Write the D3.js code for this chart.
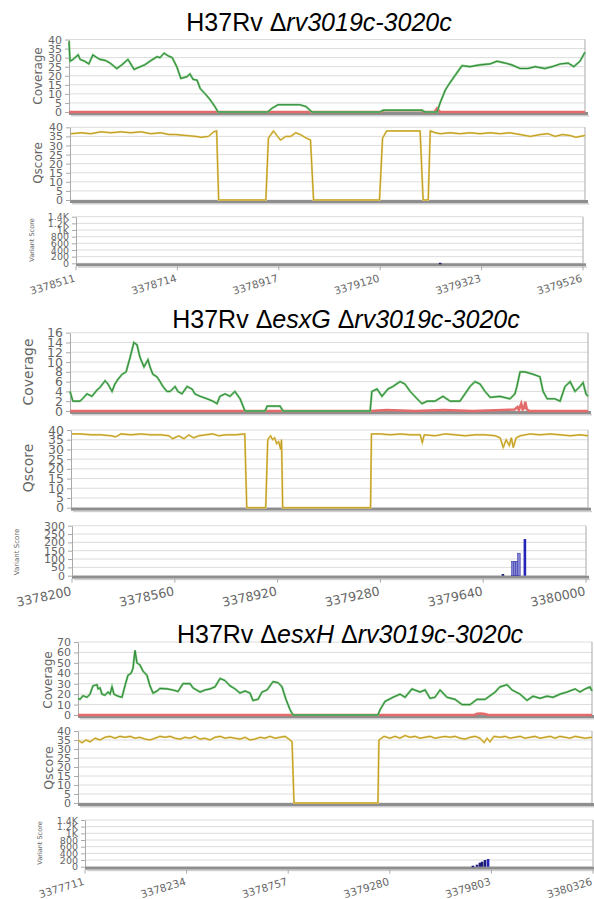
<!DOCTYPE html>
<html><head><meta charset="utf-8">
<script src="https://cdn.jsdelivr.net/npm/d3@7"></script>
<style>body{margin:0;background:#fff}svg{display:block}</style>
</head><body><svg id="c" width="594" height="899"></svg>
<script>
// ---------------- DATA ----------------
const title1 = [["H37Rv ",false],["\u0394",false],["rv3019c-3020c",true]];
const title2 = [["H37Rv ",false],["\u0394",false],["esxG",true],[" ",false],["\u0394",false],["rv3019c-3020c",true]];
const title3 = [["H37Rv ",false],["\u0394",false],["esxH",true],[" ",false],["\u0394",false],["rv3019c-3020c",true]];

const p1Ticks = [3378511,3378714,3378917,3379120,3379323,3379526];
const p2Ticks = [3378200,3378560,3378920,3379280,3379640,3380000];
const p3Ticks = [3377711,3378234,3378757,3379280,3379803,3380326];

const p1Cov = [[3378511,39],[3378513,28],[3378519,29],[3378529,31.5],[3378533,29],[3378542,28],[3378550,26.5],[3378558,31.5],[3378566,30],[3378572,29],[3378582,28.5],[3378592,27],[3378605,24],[3378615,26],[3378627,29],[3378639,23.5],[3378651,25],[3378660,26],[3378670,28],[3378684,30.5],[3378690,30],[3378698,32.5],[3378706,31],[3378714,30],[3378723,25],[3378731,18.5],[3378743,19.5],[3378749,21],[3378755,18],[3378763,17.5],[3378769,13],[3378779,10],[3378788,7],[3378798,3],[3378804,0],[3378902,0],[3378910,2],[3378922,4],[3378965,4],[3378977,3],[3378989,0],[3379123,0],[3379129,1],[3379205,1],[3379211,0],[3379235,0],[3379241,5],[3379251,12],[3379260,16],[3379270,20],[3379284,25.5],[3379300,25],[3379319,26],[3379339,26.5],[3379353,28],[3379369,27],[3379382,26],[3379398,24],[3379414,24],[3379428,25],[3379447,24],[3379461,25],[3379477,26.5],[3379493,27],[3379504,25],[3379516,28],[3379526,33]];
const p1Low = [[3378511,0],[3379125,0],[3379131,1],[3379203,1],[3379209,0],[3379230,0],[3379235,2],[3379241,0],[3379526,0]];
const p1Q = [[3378513,36.5],[3378533,37],[3378552,36.5],[3378572,37.5],[3378592,37],[3378611,37.5],[3378631,37],[3378651,37.5],[3378670,36.5],[3378690,37],[3378706,36],[3378719,36],[3378739,35.5],[3378759,35],[3378769,34.5],[3378784,35],[3378794,37.5],[3378800,38],[3378804,0],[3378897,0],[3378902,34],[3378912,38],[3378920,35],[3378926,33],[3378936,35],[3378946,35],[3378956,37],[3378965,36],[3378977,34],[3378985,33],[3378991,0],[3379121,0],[3379127,34],[3379135,38],[3379201,38],[3379207,0],[3379217,0],[3379221,38],[3379231,37],[3379241,36.5],[3379260,37],[3379280,36.5],[3379300,37],[3379319,36.5],[3379339,37],[3379359,36.5],[3379378,37],[3379398,36],[3379418,35],[3379438,36],[3379453,36.5],[3379467,35],[3379481,36],[3379496,35.5],[3379508,34.5],[3379526,35.5]];
const p1Var = [[3379240,15]];
const p1VarType = ["d"];

const p2Cov = [[3378200,4],[3378210,2],[3378235,2],[3378245,2.6],[3378259,3.5],[3378276,3],[3378294,4.3],[3378304,4.8],[3378322,6.2],[3378332,5.5],[3378346,4],[3378356,5.5],[3378367,6.5],[3378381,7.5],[3378395,8],[3378409,11],[3378422,14],[3378433,13.5],[3378443,11],[3378457,9],[3378471,10.5],[3378478,9],[3378488,7.5],[3378502,7],[3378513,6],[3378523,5],[3378537,4],[3378548,4],[3378565,5],[3378575,4],[3378589,3.5],[3378607,5],[3378624,4.5],[3378634,3.5],[3378652,3],[3378676,2.5],[3378697,2],[3378711,1.5],[3378721,3],[3378739,3.5],[3378756,3],[3378773,4],[3378791,2.5],[3378808,0],[3378878,0],[3378885,1],[3378930,1],[3378940,0],[3379243,0],[3379249,4],[3379267,4.5],[3379284,3],[3379305,4.5],[3379322,5],[3379347,6],[3379364,5.5],[3379382,4],[3379406,2.5],[3379423,1.5],[3379441,2],[3379468,2],[3379496,3],[3379521,2],[3379555,2],[3379590,5],[3379607,6],[3379625,5.5],[3379642,4],[3379660,2.8],[3379694,3],[3379729,2.5],[3379746,3.5],[3379753,5],[3379764,8],[3379781,8],[3379809,7.5],[3379833,7],[3379844,4],[3379858,2.5],[3379885,2.5],[3379903,2],[3379920,5],[3379938,6],[3379955,4],[3379972,5],[3379983,5.8],[3379993,3.5],[3380000,3]];
const p2Low = [[3378200,0],[3379243,0],[3379300,0.2],[3379400,0],[3379500,0.2],[3379600,0],[3379745,0.3],[3379755,0.8],[3379760,0.2],[3379768,1.5],[3379773,0.3],[3379778,0.6],[3379782,1.9],[3379787,0.4],[3379795,0],[3380000,0]];
const p2Q = [[3378203,38],[3378235,38],[3378270,37.5],[3378304,37.5],[3378339,37],[3378356,36.5],[3378374,38],[3378409,37.5],[3378443,38],[3378478,37.5],[3378513,37.5],[3378541,37],[3378554,35.5],[3378575,37],[3378593,35.5],[3378610,37.5],[3378627,36],[3378645,37],[3378669,37.5],[3378693,38],[3378714,37],[3378739,37.5],[3378773,37.5],[3378805,38],[3378812,0],[3378878,0],[3378885,35],[3378895,37],[3378902,35],[3378909,36],[3378916,33],[3378923,34],[3378930,30],[3378933,35],[3378937,0],[3379243,0],[3379246,38],[3379277,38],[3379312,37.5],[3379347,38],[3379382,37.5],[3379416,37.5],[3379423,33.5],[3379430,37.5],[3379468,37],[3379503,38],[3379538,37.5],[3379573,37],[3379607,37.5],[3379642,37.5],[3379677,37],[3379694,36],[3379705,31],[3379715,35],[3379726,32],[3379733,36],[3379740,31],[3379750,36],[3379764,37],[3379799,38],[3379833,37.5],[3379868,38],[3379903,37.5],[3379938,37],[3379972,37.5],[3380000,37]];
const p2Var = [[3379709,10],[3379744,85],[3379751,85],[3379758,85],[3379765,135],[3379786,220]];
const p2VarType = ["d","l","l","l","l","b"];

const p3Cov = [[3377711,16],[3377721,15],[3377736,18.5],[3377757,17],[3377772,20],[3377787,28],[3377808,29],[3377813,25],[3377823,26],[3377833,20],[3377848,19],[3377864,22],[3377874,20],[3377884,27],[3377894,20],[3377915,18],[3377935,17],[3377950,28],[3377965,38],[3377981,40],[3377991,45],[3378001,62],[3378011,50],[3378026,48],[3378042,42],[3378062,38],[3378077,28],[3378093,21],[3378113,23],[3378128,25.5],[3378164,25],[3378194,24],[3378220,22.5],[3378245,30],[3378281,30],[3378296,26],[3378332,22],[3378357,24],[3378383,25],[3378408,27],[3378434,35],[3378459,33],[3378484,28],[3378510,25],[3378535,21],[3378561,23],[3378586,21],[3378601,14],[3378627,15],[3378647,22],[3378673,24],[3378703,32],[3378729,31],[3378749,27],[3378769,15],[3378790,5],[3378805,0],[3379237,0],[3379248,5],[3379273,13],[3379314,17],[3379349,20],[3379375,17],[3379410,25],[3379451,22],[3379477,24],[3379502,16],[3379527,17],[3379553,24],[3379588,17],[3379629,15],[3379665,10],[3379706,10],[3379741,15],[3379782,15],[3379833,22],[3379858,27],[3379894,29],[3379919,24],[3379960,20],[3379995,14],[3380026,18],[3380062,16],[3380097,18],[3380128,17],[3380163,20],[3380199,22],[3380240,25],[3380265,22],[3380291,25],[3380316,27],[3380326,23]];
const p3Low = [[3377711,0],[3379730,0],[3379741,1.2],[3379760,1.5],[3379782,1],[3379795,0],[3380326,0]];
const p3Q = [[3377711,35],[3377731,33.5],[3377752,35],[3377772,34],[3377798,36],[3377823,35],[3377848,36.5],[3377874,37],[3377899,36],[3377925,37],[3377950,36.5],[3377976,37],[3378001,36],[3378026,36.5],[3378052,35.5],[3378077,35],[3378103,36],[3378128,37],[3378154,36.5],[3378179,37],[3378205,36],[3378230,35.5],[3378255,36.5],[3378281,36],[3378306,37],[3378332,35.5],[3378357,36],[3378383,35],[3378408,36.5],[3378434,37],[3378459,36],[3378484,36.5],[3378510,36],[3378535,35.5],[3378561,36.5],[3378586,35],[3378611,35.5],[3378637,36.5],[3378662,36],[3378688,37],[3378713,36],[3378739,36.5],[3378764,37],[3378784,35.5],[3378800,34],[3378810,0],[3379237,0],[3379242,35],[3379268,37],[3379298,36],[3379324,37],[3379349,36],[3379375,37.5],[3379400,36.5],[3379426,37],[3379451,36],[3379477,36.5],[3379502,37],[3379527,36],[3379553,36.5],[3379578,37],[3379604,36.5],[3379629,37],[3379655,36],[3379680,35.5],[3379706,36.5],[3379731,37],[3379756,36],[3379777,33.5],[3379792,36],[3379807,34],[3379827,37],[3379858,36.5],[3379884,37],[3379909,36],[3379934,36.5],[3379960,37],[3379985,36],[3380011,36.5],[3380036,37],[3380062,36],[3380087,36.5],[3380113,37],[3380138,36],[3380163,37],[3380189,36.5],[3380214,36],[3380240,37],[3380265,36.5],[3380291,36],[3380326,36.5]];
const p3Var = [[3379708,30],[3379729,60],[3379744,120],[3379755,150],[3379770,200],[3379786,230]];
const p3VarType = ["d","d","d","d","d","b"];

const covTicks1 = d3.range(0,41,5), covTicks2 = d3.range(0,17,2), covTicks3 = d3.range(0,71,10);
const qTicks = d3.range(0,41,5);
const varTicksK = d3.range(0,1401,200), varTicks300 = d3.range(0,301,50);

// ---------------- LAYOUT ----------------
const panels = [
 {title:title1, titleX:319, titleY:31, ticks:p1Ticks, cov:p1Cov, low:p1Low, q:p1Q, vars:p1Var, vtype:p1VarType,
  covTicks:covTicks1, varTicks:varTicksK,
  C:{x0:69,x1:585,yb:112,yt:39.5}, Q:{x0:70,x1:585,yb:200,yt:127.3}, V:{x0:76,x1:583,yb:263.3,yt:216.7},
  cl:{x:38,y:76,s:12}, ql:{x:38,y:163,s:12}, vl:{x:32,y:240,s:6.5}, tf:11, vtf:9.5, xtf:10.5, rot:-17},
 {title:title2, titleX:346, titleY:328, ticks:p2Ticks, cov:p2Cov, low:p2Low, q:p2Q, vars:p2Var, vtype:p2VarType,
  covTicks:covTicks2, varTicks:varTicks300,
  C:{x0:70,x1:588,yb:411,yt:332.7}, Q:{x0:71,x1:588,yb:507.7,yt:430}, V:{x0:72,x1:586,yb:575.7,yt:525.7},
  cl:{x:28,y:372,s:14}, ql:{x:28,y:468,s:14}, vl:{x:16,y:552,s:7}, tf:12.5, vtf:11, xtf:12.5, rot:-12},
 {title:title3, titleX:350, titleY:643, ticks:p3Ticks, cov:p3Cov, low:p3Low, q:p3Q, vars:p3Var, vtype:p3VarType,
  covTicks:covTicks3, varTicks:varTicksK,
  C:{x0:78,x1:592,yb:715,yt:642}, Q:{x0:78,x1:592,yb:803,yt:731}, V:{x0:85,x1:593,yb:866.7,yt:820},
  cl:{x:48,y:680,s:12}, ql:{x:48,y:768,s:12.5}, vl:{x:40,y:843,s:6.5}, tf:11, vtf:9.5, xtf:10.5, rot:-17}
];

const svg = d3.select("#c");
const fmtK = d => d >= 1000 ? (d/1000) + "K" : String(d);

function frame(g, L, yTicks, fmt, fs, ymax){
  const y = d3.scaleLinear().domain([0, ymax]).range([L.yb, L.yt]);
  g.append("g").selectAll("line").data(yTicks).join("line")
    .attr("x1", L.x0).attr("x2", L.x1).attr("y1", d=>y(d)).attr("y2", d=>y(d))
    .attr("stroke", "#dcdcdc").attr("stroke-width", 1);
  g.append("line").attr("x1", L.x1).attr("x2", L.x1).attr("y1", L.yt).attr("y2", L.yb)
    .attr("stroke", "#b8b8b8").attr("stroke-width", 1.2);
  g.append("rect").attr("x", L.x0).attr("y", L.yb).attr("width", L.x1-L.x0+3).attr("height", 3)
    .attr("fill", "#8e8e8e");
  g.append("rect").attr("x", L.x0+2).attr("y", L.yb+3).attr("width", L.x1-L.x0+2).attr("height", 1.5)
    .attr("fill", "#cfcfcf");
  const ax = g.append("g").attr("transform", `translate(${L.x0},0)`)
    .call(d3.axisLeft(y).tickValues(yTicks).tickFormat(fmt).tickSize(4).tickSizeOuter(0));
  ax.select(".domain").attr("stroke", "#aaa");
  ax.selectAll(".tick line").attr("stroke", "#aaa");
  ax.selectAll("text").attr("fill", "#666").style("font-family", "DejaVu Sans, sans-serif")
    .style("font-size", fs + "px");
  return y;
}

function ylabel(g, l, text){
  g.append("text").attr("transform", `translate(${l.x + l.s*0.36},${l.y}) rotate(-90)`)
    .attr("text-anchor", "middle").attr("fill", "#666")
    .style("font-family", "DejaVu Sans, sans-serif").style("font-size", l.s + "px").text(text);
}

panels.forEach(p => {
  const g = svg.append("g");
  const dom = [p.ticks[0], p.ticks[p.ticks.length-1]];
  // coverage
  const xc = d3.scaleLinear().domain(dom).range([p.C.x0, p.C.x1]);
  const yc = frame(g, p.C, p.covTicks, d3.format("d"), p.tf, d3.max(p.covTicks));
  const lc = d3.line().x(d=>xc(d[0])).y(d=>yc(d[1]));
  g.append("path").datum(p.low).attr("d", lc).attr("fill","none").attr("stroke","#e36b6b").attr("stroke-width",2.6);
  g.append("path").datum(p.cov).attr("d", lc).attr("fill","none").attr("stroke","#7cc47c").attr("stroke-width",2.2);
  g.append("path").datum(p.cov).attr("d", lc).attr("fill","none").attr("stroke","#2f8a3a").attr("stroke-width",1);
  ylabel(g, p.cl, "Coverage");

  // qscore
  const xq = d3.scaleLinear().domain(dom).range([p.Q.x0, p.Q.x1]);
  const yq = frame(g, p.Q, qTicks, d3.format("d"), p.tf, 40);
  const lq = d3.line().x(d=>xq(d[0])).y(d=>yq(d[1]));
  g.append("path").datum(p.q).attr("d", lq).attr("fill","none").attr("stroke","#e3cf7a").attr("stroke-width",2);
  g.append("path").datum(p.q).attr("d", lq).attr("fill","none").attr("stroke","#c09a1c").attr("stroke-width",1);
  ylabel(g, p.ql, "Qscore");

  // variant score
  const xv = d3.scaleLinear().domain(dom).range([p.V.x0, p.V.x1]);
  const yv = frame(g, p.V, p.varTicks, fmtK, p.vtf, d3.max(p.varTicks));
  const colors = {d:"#1c1c78", l:"#8585d6", b:"#2424b8"};
  g.append("g").selectAll("rect").data(p.vars).join("rect")
    .attr("x", d=>xv(d[0])-1.3).attr("width", 2.6)
    .attr("y", d=>yv(d[1])).attr("height", d=>Math.max(1.5, yv(0)-yv(d[1])))
    .attr("fill", (d,i)=>colors[p.vtype[i]])
    .attr("stroke", (d,i)=>p.vtype[i]==="l" ? "#3a3aa8" : "none").attr("stroke-width", 0.6);
  ylabel(g, p.vl, "Variant Score");

  // x ticks
  const xt = g.append("g");
  xt.selectAll("line").data(p.ticks).join("line")
    .attr("x1", d=>xv(d)).attr("x2", d=>xv(d)).attr("y1", p.V.yb+3).attr("y2", p.V.yb+7)
    .attr("stroke", "#aaa");
  xt.selectAll("text").data(p.ticks).join("text")
    .attr("transform", d=>`translate(${xv(d)},${p.V.yb + 10 + p.xtf*0.75}) rotate(${p.rot})`)
    .attr("text-anchor", "end").attr("fill", "#666")
    .style("font-family", "DejaVu Sans, sans-serif").style("font-size", p.xtf + "px")
    .text(d=>d);

  // title (drawn last, over the plot as in the reference)
  const t = g.append("text").attr("x", p.titleX).attr("y", p.titleY).attr("text-anchor", "middle")
    .style("font-family", "Liberation Sans, Arial, sans-serif").style("font-size", "25px").attr("fill", "#000");
  p.title.forEach(([s, it]) => t.append("tspan").text(s).style("font-style", it ? "italic" : "normal"));
});
</script></body></html>
